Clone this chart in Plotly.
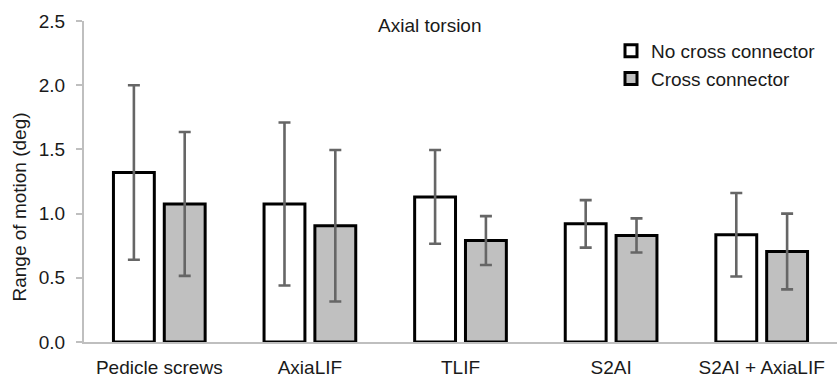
import plotly.graph_objects as go

categories = ["Pedicle screws", "AxiaLIF", "TLIF", "S2AI", "S2AI + AxiaLIF"]
no_cc_mean = [1.32, 1.075, 1.13, 0.92, 0.835]
no_cc_sd = [0.68, 0.635, 0.365, 0.185, 0.325]
cc_mean = [1.075, 0.905, 0.79, 0.83, 0.705]
cc_sd = [0.56, 0.59, 0.19, 0.133, 0.295]
y_ticks = [0.0, 0.5, 1.0, 1.5, 2.0, 2.5]
y_ticktext = ["0.0", "0.5", "1.0", "1.5", "2.0", "2.5"]

FONT = "Liberation Sans, Arial, sans-serif"
TXT = "#1a1a1a"
ERR = "#666666"

L, R, T, B = 84, 837, 21, 342  # plot area in pixels


def px_x(x):
    return (x - L) / (R - L)


def px_y(y):
    return 1 - (y - T) / (B - T)


fig = go.Figure()
fig.add_trace(go.Bar(
    name="No cross connector", x=categories, y=no_cc_mean,
    marker=dict(color="white", line=dict(color="black", width=3)),
    error_y=dict(type="data", array=no_cc_sd, visible=True, color=ERR, thickness=2.6, width=6),
))
fig.add_trace(go.Bar(
    name="Cross connector", x=categories, y=cc_mean,
    marker=dict(color="#c0c0c0", line=dict(color="black", width=3)),
    error_y=dict(type="data", array=cc_sd, visible=True, color=ERR, thickness=2.6, width=6),
))

fig.update_layout(
    width=837, height=377,
    margin=dict(l=L, r=837 - R, t=T, b=377 - B),
    paper_bgcolor="white", plot_bgcolor="white",
    font=dict(family=FONT, size=19, color=TXT),
    barmode="group", bargap=0.325, bargroupgap=0.196,
    showlegend=True,
    legend=dict(x=px_x(611), y=px_y(32), xanchor="left", yanchor="top",
                bgcolor="rgba(0,0,0,0)", font=dict(size=19, color=TXT),
                tracegroupgap=0, itemclick=False),
    xaxis=dict(showline=True, linecolor="#bfbfbf", linewidth=2, ticks="",
               showgrid=False, zeroline=False, ticklabelstandoff=7,
               tickfont=dict(size=19, color=TXT), automargin=False),
    yaxis=dict(range=[0, 2.5], tickvals=y_ticks, ticktext=y_ticktext,
               showline=True, linecolor="#bfbfbf", linewidth=2,
               ticks="outside", ticklen=6, tickcolor="#bfbfbf", tickwidth=2,
               showgrid=False, zeroline=False, ticklabelstandoff=7,
               tickfont=dict(size=19, color=TXT), automargin=False),
    annotations=[
        dict(text="Axial torsion", x=px_x(430), y=px_y(25), xref="paper", yref="paper",
             xanchor="center", yanchor="middle",
             showarrow=False, font=dict(size=19, color=TXT)),
        dict(text="Range of motion (deg)", textangle=-90, x=px_x(19), y=px_y(207.5),
             xref="paper", yref="paper", xanchor="center", yanchor="middle",
             showarrow=False, font=dict(size=19, color=TXT)),
    ],
)

fig.write_html("out.html", config={"displayModeBar": False},
               post_script="document.body.style.margin='0';")
